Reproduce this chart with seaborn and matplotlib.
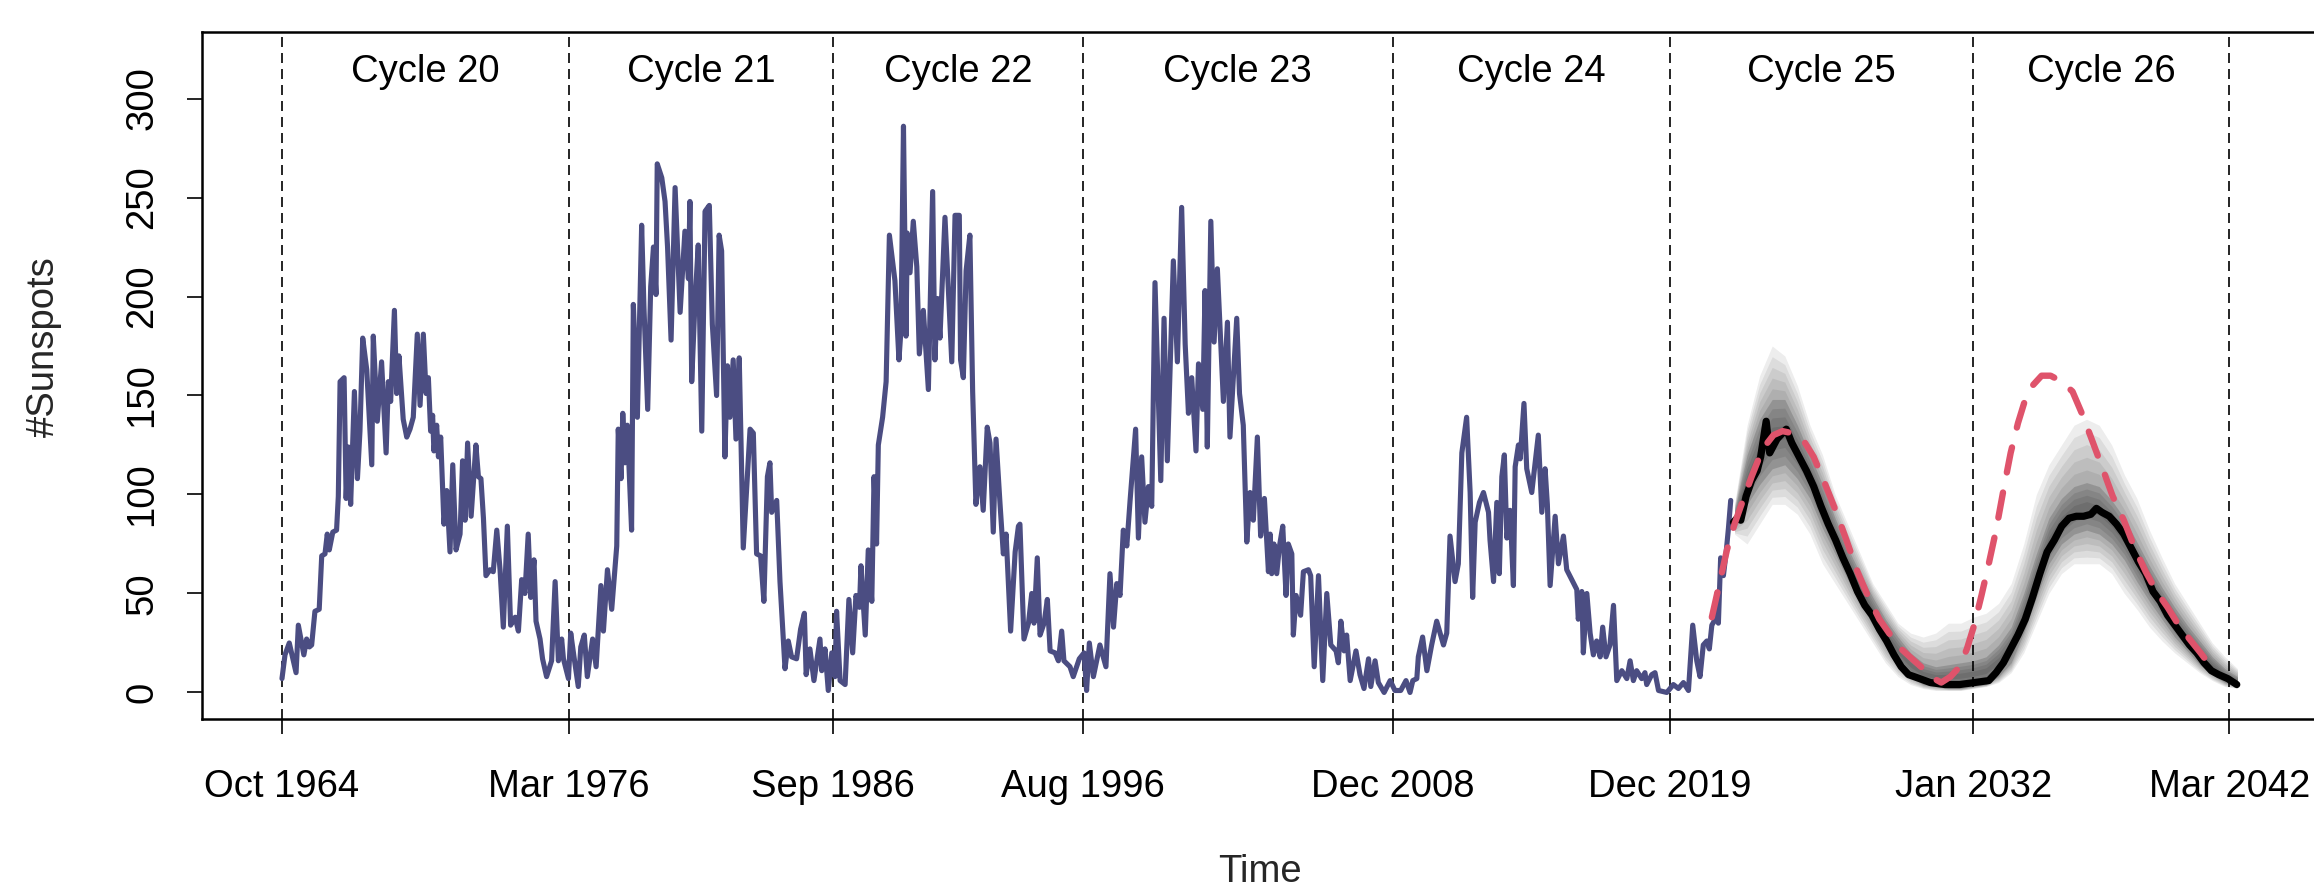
import numpy as np
import pandas as pd
import seaborn as sns
import matplotlib
matplotlib.use("Agg")
import matplotlib.pyplot as plt

obs_time = [
    1964.75, 1964.87, 1965.04, 1965.31, 1965.40, 1965.62, 1965.73, 1965.84, 1965.93, 1966.06,
    1966.23, 1966.33, 1966.46, 1966.55, 1966.63, 1966.77, 1966.92, 1966.99, 1967.06, 1967.22,
    1967.30, 1967.39, 1967.48, 1967.63, 1967.75, 1967.85, 1967.96, 1968.12, 1968.32, 1968.38,
    1968.54, 1968.71, 1968.89, 1968.98, 1969.07, 1969.22, 1969.31, 1969.40, 1969.57, 1969.71,
    1969.84, 1969.97, 1970.13, 1970.24, 1970.37, 1970.48, 1970.57, 1970.66, 1970.74, 1970.79,
    1970.90, 1970.97, 1971.06, 1971.19, 1971.30, 1971.43, 1971.54, 1971.67, 1971.83, 1971.93,
    1972.03, 1972.13, 1972.27, 1972.46, 1972.56, 1972.66, 1972.76, 1972.86, 1973.02, 1973.15,
    1973.29, 1973.42, 1973.55, 1973.71, 1973.84, 1974.02, 1974.15,
    1974.28, 1974.41, 1974.54, 1974.64, 1974.77, 1974.85, 1975.01, 1975.11, 1975.27, 1975.47,
    1975.61, 1975.74, 1975.87, 1975.94, 1976.14, 1976.23, 1976.36, 1976.53, 1976.63, 1976.77,
    1976.89, 1977.10, 1977.24, 1977.43, 1977.53, 1977.69, 1977.86, 1978.06, 1978.12, 1978.23,
    1978.30, 1978.39, 1978.48, 1978.65, 1978.72, 1978.88, 1979.05, 1979.14, 1979.29, 1979.41,
    1979.52, 1979.62, 1979.67, 1979.85, 1979.98, 1980.08, 1980.22, 1980.38, 1980.58, 1980.77,
    1980.91, 1980.97, 1981.04, 1981.17, 1981.30, 1981.44, 1981.57, 1981.74, 1981.86, 1982.03,
    1982.13, 1982.23, 1982.36, 1982.46, 1982.56, 1982.69, 1982.80, 1982.93, 1983.09, 1983.36,
    1983.49, 1983.62, 1983.78, 1983.91, 1984.05, 1984.15,
    1984.22, 1984.42, 1984.55, 1984.75, 1984.88, 1985.01, 1985.21, 1985.37, 1985.52, 1985.59,
    1985.74, 1985.90, 1986.14, 1986.21, 1986.34, 1986.47, 1986.61, 1986.74, 1986.80, 1986.94,
    1987.14, 1987.29, 1987.44, 1987.57, 1987.71, 1987.77, 1987.94, 1988.06, 1988.20, 1988.29,
    1988.39, 1988.46, 1988.63, 1988.77, 1988.90, 1989.12, 1989.28, 1989.36, 1989.46, 1989.56,
    1989.61, 1989.72, 1989.85, 1989.99, 1990.09, 1990.25, 1990.45, 1990.62, 1990.71, 1990.81,
    1990.91, 1991.11, 1991.38, 1991.51, 1991.68, 1991.73, 1991.84, 1991.95, 1992.10, 1992.21,
    1992.34, 1992.50, 1992.63, 1992.79, 1992.90, 1993.03, 1993.14, 1993.30, 1993.43, 1993.54,
    1993.72, 1993.90, 1994.03,
    1994.09, 1994.25, 1994.43, 1994.56, 1994.65, 1994.78, 1994.89, 1995.05, 1995.18, 1995.29,
    1995.49, 1995.62, 1995.75, 1995.84, 1996.08, 1996.21, 1996.45, 1996.64, 1996.74, 1996.85,
    1997.01, 1997.27, 1997.51, 1997.67, 1997.81, 1997.94, 1998.07, 1998.20, 1998.34, 1998.47,
    1998.69, 1998.80, 1998.93, 1999.06, 1999.20, 1999.33, 1999.46, 1999.69, 1999.82, 1999.95,
    2000.19, 2000.35, 2000.52, 2000.66, 2000.79, 2000.92, 2001.09, 2001.19, 2001.36, 2001.45,
    2001.54, 2001.68, 2001.81, 2001.94, 2002.18, 2002.34, 2002.44, 2002.71, 2002.82, 2002.97,
    2003.11, 2003.24, 2003.37, 2003.53, 2003.66, 2003.81, 2003.97,
    2004.04, 2004.10, 2004.19, 2004.30, 2004.41, 2004.54, 2004.67, 2004.76, 2004.90, 2004.96,
    2005.07, 2005.25, 2005.36, 2005.56, 2005.65, 2005.79, 2005.96, 2006.13, 2006.29, 2006.45,
    2006.66, 2006.75, 2006.85, 2006.98, 2007.08, 2007.22, 2007.45, 2007.61, 2007.77, 2007.95,
    2008.04, 2008.21, 2008.34, 2008.57, 2008.81, 2009.00, 2009.23, 2009.44, 2009.60, 2009.71,
    2009.87, 2009.93, 2010.10, 2010.27, 2010.46, 2010.66, 2010.93, 2011.06, 2011.19, 2011.39,
    2011.52, 2011.66, 2011.85, 2011.99, 2012.09, 2012.19, 2012.36, 2012.52, 2012.72, 2012.78,
    2012.92, 2013.05, 2013.15, 2013.25, 2013.35, 2013.45, 2013.58, 2013.71, 2013.78, 2013.91,
    2013.98, 2014.13, 2014.24, 2014.44, 2014.70, 2014.84, 2014.97, 2015.06, 2015.17, 2015.37,
    2015.50, 2015.70, 2015.83, 2016.03, 2016.23, 2016.29, 2016.43, 2016.49, 2016.63, 2016.76,
    2016.89, 2017.02, 2017.16, 2017.26, 2017.39, 2017.55, 2017.69, 2017.82, 2018.02, 2018.22,
    2018.35, 2018.48, 2018.61, 2018.81, 2018.94, 2019.01, 2019.21, 2019.34, 2019.48, 2019.81,
    2020.07, 2020.27, 2020.47, 2020.67, 2020.84, 2021.00, 2021.13, 2021.26, 2021.40, 2021.50,
    2021.60, 2021.69, 2021.80, 2021.86, 2021.95, 2022.06, 2022.17, 2022.26, 2022.35,
]
obs_spots = [
    7, 19, 25, 10, 34, 19, 27, 23, 24, 41,
    42, 69, 70, 80, 72, 81, 82, 99, 157, 159,
    98, 124, 95, 152, 108, 132, 179, 163, 115, 180,
    137, 167, 121, 157, 147, 193, 151, 170, 138, 129,
    133, 139, 181, 145, 181, 151, 159, 132, 140, 122,
    135, 119, 129, 85, 102, 71, 115, 72, 80, 117,
    87, 126, 89, 125, 109, 108, 88, 59, 62, 61,
    82, 62, 33, 84, 34, 38, 31,
    57, 50, 80, 48, 67, 36, 27, 17, 8, 16,
    56, 16, 27, 17, 7, 30, 18, 3, 23, 29,
    8, 27, 13, 54, 31, 62, 42, 74, 133, 108,
    141, 116, 135, 82, 196, 139, 236, 195, 143, 205,
    225, 201, 267, 260, 248, 225, 178, 255, 192, 233,
    209, 248, 157, 197, 226, 132, 243, 246, 186, 150,
    231, 223, 119, 165, 139, 168, 128, 169, 73, 133,
    131, 70, 69, 46, 109, 116,
    91, 97, 56, 12, 26, 18, 17, 32, 40, 9,
    22, 6, 27, 11, 22, 1, 20, 8, 41, 6,
    4, 47, 20, 49, 43, 64, 29, 72, 46, 109,
    75, 125, 139, 157, 231, 208, 168, 183, 286, 180,
    232, 212, 238, 215, 171, 193, 153, 253, 168, 199,
    179, 240, 167, 241, 241, 168, 159, 213, 231, 152,
    95, 114, 92, 134, 126, 81, 128, 95, 70, 80,
    31, 71, 84,
    85, 27, 35, 50, 35, 68, 29, 35, 47, 21,
    20, 16, 31, 16, 13, 8, 17, 20, 1, 25,
    8, 24, 13, 60, 33, 55, 49, 82, 74, 97,
    133, 78, 119, 86, 104, 94, 207, 107, 189, 117,
    218, 167, 245, 176, 141, 159, 122, 166, 143, 203,
    124, 238, 177, 214, 147, 187, 129, 189, 151, 135,
    76, 101, 87, 129, 79, 98, 61,
    80, 60, 75, 60, 74, 84, 49, 75, 70, 29,
    49, 39, 61, 62, 59, 13, 59, 6, 50, 24,
    21, 15, 36, 21, 29, 6, 21, 9, 2, 17,
    3, 16, 5, 0, 6, 1, 1, 6, 0, 6,
    7, 18, 28, 11, 24, 36, 24, 30, 79, 56,
    65, 121, 139, 101, 48, 86, 96, 101, 91, 77,
    56, 96, 60, 109, 120, 78, 92, 54, 114, 125,
    118, 146, 113, 101, 130, 91, 113, 95, 54, 89,
    65, 79, 62, 57, 52, 37, 51, 20, 50, 30,
    19, 26, 18, 33, 18, 24, 44, 6, 11, 7,
    16, 6, 11, 7, 10, 4, 9, 10, 1, 0,
    4, 2, 5, 1, 34, 16, 8, 24, 26, 22,
    34, 36, 50, 35, 68, 59, 71, 83, 97,
]

# median of the simulated paths (black)
med_time = [
    2022.46, 2022.60, 2022.75, 2022.96, 2023.18, 2023.40, 2023.54, 2023.76, 2023.90, 2024.19,
    2024.56, 2024.78, 2025.07, 2025.36, 2025.65, 2025.94, 2026.23, 2026.52, 2026.81, 2027.10,
    2027.39, 2027.68, 2027.97, 2028.26, 2028.55, 2028.84, 2029.13, 2029.42, 2029.86, 2030.29,
    2030.87, 2031.45, 2032.03, 2032.61, 2032.90, 2033.19, 2033.48, 2033.77, 2034.06, 2034.35,
    2034.64, 2034.93, 2035.22, 2035.51, 2035.80, 2036.09, 2036.38, 2036.67, 2036.89, 2037.11,
    2037.40, 2037.69, 2037.98, 2038.27, 2038.56, 2038.85, 2039.14, 2039.43, 2039.72, 2040.01,
    2040.30, 2040.59, 2040.88, 2041.17, 2041.46, 2041.75, 2042.11, 2042.47,
]
med_spots = [
    86, 88, 87, 99, 107, 112, 119, 137, 121, 128,
    133, 126, 119, 112, 104, 94, 85, 77, 68, 60,
    51, 44, 39, 32, 26, 19, 13, 9, 7, 5,
    4, 4, 5, 6, 10, 15, 22, 29, 37, 48,
    60, 71, 77, 84, 88, 89, 89, 90, 93, 91,
    89, 85, 80, 73, 66, 60, 51, 46, 39, 34,
    29, 24, 20, 15, 11, 9, 7, 4,
]

# reference cycle curve (red dashed)
ref_time = [
    2021.60, 2021.90, 2022.20, 2022.50, 2022.75, 2023.18, 2023.62, 2024.05, 2024.41, 2024.78,
    2025.21, 2025.65, 2026.08, 2026.52, 2026.95, 2027.39, 2027.83, 2028.26, 2028.70, 2029.13,
    2029.56, 2030.00, 2030.29, 2030.72, 2031.09, 2031.45, 2031.74, 2032.03, 2032.32, 2032.61,
    2032.90, 2033.19, 2033.48, 2033.77, 2034.06, 2034.35, 2034.71, 2035.07, 2035.51, 2035.94,
    2036.31, 2036.67, 2037.11, 2037.54, 2037.98, 2038.41, 2038.85, 2039.28, 2039.72, 2040.16,
    2040.59, 2041.03, 2041.39, 2041.61,
]
ref_spots = [
    38, 55, 72, 85, 94, 109, 123, 130, 132, 131,
    128, 119, 106, 92, 77, 61, 48, 37, 29, 22,
    17, 12, 8, 5, 8, 13, 22, 34, 49, 65,
    82, 102, 121, 136, 148, 155, 160, 160, 157, 152,
    141, 129, 114, 99, 87, 73, 61, 51, 43, 34,
    27, 20, 14, 10,
]

# spread of the simulated paths (grey)
band_time = [
    2022.5, 2023.0, 2023.5, 2024.0, 2024.5, 2025.0, 2025.5, 2026.0, 2026.5, 2027.0,
    2027.5, 2028.0, 2028.5, 2029.0, 2029.5, 2030.0, 2030.5, 2031.0, 2031.5, 2032.0,
    2032.5, 2033.0, 2033.5, 2034.0, 2034.5, 2035.0, 2035.5, 2036.0, 2036.5, 2037.0,
    2037.5, 2038.0, 2038.5, 2039.0, 2039.5, 2040.0, 2040.5, 2041.0, 2041.5, 2042.0,
    2042.5,
]
band_lo = [80, 75, 85, 95, 95, 90, 80, 65, 55, 45, 35, 25, 15, 8, 4, 2, 1, 1, 1, 2,
           3, 5, 10, 20, 35, 50, 60, 65, 65, 65, 60, 50, 42, 33, 26, 20, 15, 10, 6, 3, 2]
band_hi = [95, 135, 160, 175, 170, 155, 135, 120, 100, 85, 70, 55, 45, 35, 30, 28, 30, 35, 35, 38,
           40, 45, 55, 75, 100, 115, 125, 135, 138, 135, 125, 110, 98, 82, 68, 55, 45, 35, 25, 18, 12]
core_lo = [83, 95, 105, 113, 115, 108, 98, 83, 70, 57, 45, 34, 23, 14, 8, 4, 3, 2, 2, 3,
           4, 8, 15, 30, 48, 65, 75, 80, 82, 80, 75, 67, 56, 46, 37, 28, 21, 14, 9, 5, 3]
core_hi = [92, 120, 138, 148, 148, 135, 120, 105, 88, 73, 60, 48, 37, 28, 20, 15, 13, 14, 15, 16,
           18, 24, 33, 50, 70, 88, 98, 104, 106, 104, 97, 88, 76, 64, 53, 43, 34, 26, 18, 12, 8]

cycle_starts = [1964.75, 1976.17, 1986.67, 1996.58, 2008.92, 2019.92, 2032.0, 2042.17]
cycle_ticks = ["Oct 1964", "Mar 1976", "Sep 1986", "Aug 1996", "Dec 2008",
               "Dec 2019", "Jan 2032", "Mar 2042"]
cycle_names = ["Cycle 20", "Cycle 21", "Cycle 22", "Cycle 23", "Cycle 24", "Cycle 25", "Cycle 26"]

sns.set_theme(style="white")
plt.rcParams["font.family"] = ["Liberation Sans", "DejaVu Sans"]
FS = 27.5

fig = plt.figure(figsize=(23.14, 8.91), dpi=100)
ax = fig.add_axes([202 / 2314, 172 / 891, 2116 / 2314, 687 / 891])

# simulated paths spread: soft layers from the outer band in to the core
blo, bhi = np.array(band_lo, float), np.array(band_hi, float)
clo, chi = np.array(core_lo, float), np.array(core_hi, float)
for f in np.linspace(0, 1, 6):
    ax.fill_between(band_time, blo + f * (clo - blo), bhi + f * (chi - bhi),
                    color="black", alpha=0.07, lw=0)
for f in np.linspace(0, 0.8, 4):
    mid = (clo + chi) / 2
    ax.fill_between(band_time, clo + f * (mid - clo), chi + f * (mid - chi),
                    color="black", alpha=0.09, lw=0)

obs = pd.DataFrame({"time": obs_time, "spots": obs_spots})
med = pd.DataFrame({"time": med_time, "spots": med_spots})
ref = pd.DataFrame({"time": ref_time, "spots": ref_spots})

sns.lineplot(data=obs, x="time", y="spots", color="#4B4D82", lw=3.7,
             estimator=None, sort=False, ax=ax)
sns.lineplot(data=med, x="time", y="spots", color="black", lw=5.2,
             estimator=None, sort=False, ax=ax)
sns.lineplot(data=ref, x="time", y="spots", color="#DF536B", lw=4.6,
             estimator=None, sort=False, ax=ax)
ax.lines[-1].set_dashes([4, 3.2])
ax.lines[-1].set_dash_capstyle("round")

for t in cycle_starts:
    ax.axvline(t, color="black", lw=1.2, dashes=(6, 3.6), zorder=1)

for i, name in enumerate(cycle_names):
    mid = (cycle_starts[i] + cycle_starts[i + 1]) / 2
    ax.text(mid, 313.5, name, ha="center", va="center", fontsize=FS, color="black")

ax.set_xlim(1961.57, 2045.7)
ax.set_ylim(-13.4, 333.6)
ax.set_xticks(cycle_starts)
ax.set_xticklabels(cycle_ticks)
ax.set_yticks([0, 50, 100, 150, 200, 250, 300])
ax.set_yticklabels(["0", "50", "100", "150", "200", "250", "300"])
ax.set_xlabel("")
ax.set_ylabel("")

ax.tick_params(axis="both", direction="out", length=10.8, width=1.2, color="black",
               labelsize=FS, labelcolor="black", bottom=True, left=True)
ax.tick_params(axis="x", pad=25)
ax.tick_params(axis="y", pad=19)
for lab in ax.get_yticklabels():
    lab.set_rotation(90)
    lab.set_va("center")

for s in ax.spines.values():
    s.set_color("black")
    s.set_linewidth(1.8)

fig.text(1260 / 2314, 1 / 891, "Time", ha="center", va="bottom", fontsize=FS)
fig.text(44 / 2314, (891 - 347) / 891, "#Sunspots", ha="center", va="center",
         rotation=90, fontsize=FS)

fig.savefig("out.png", dpi=100)
